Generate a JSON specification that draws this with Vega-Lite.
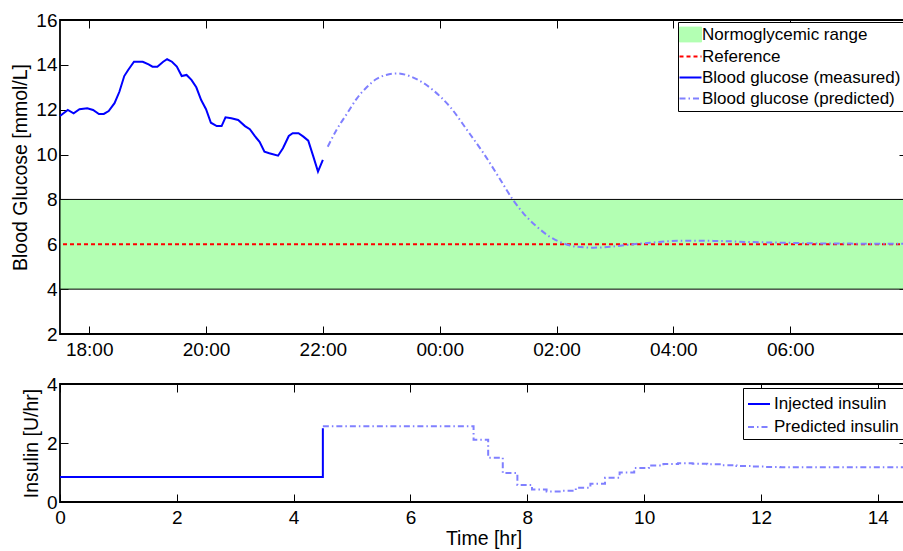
{
  "$schema": "https://vega.github.io/schema/vega-lite/v6.json",
  "background": "white",
  "padding": {"left": 9, "top": 10, "right": 0, "bottom": 0},
  "spacing": 14,
  "config": {
    "font": "Liberation Sans",
    "view": {"stroke": "black", "strokeWidth": 1.8},
    "axis": {
      "grid": false,
      "zindex": 1,
      "domain": false,
      "offset": -8,
      "tickColor": "black",
      "tickWidth": 1,
      "tickSize": 8,
      "labelFont": "Liberation Sans",
      "labelFontSize": 19,
      "labelColor": "black",
      "labelPadding": 3,
      "labelFlush": false,
      "titleFont": "Liberation Sans",
      "titleFontSize": 19.5,
      "titleFontWeight": "normal",
      "titleColor": "black",
      "titlePadding": 5
    },
    "axisX": {"labelPadding": 6, "titlePadding": 2},
    "legend": {
      "orient": "top-right",
      "title": null,
      "fillColor": "white",
      "strokeColor": "black",
      "padding": 4,
      "rowPadding": 3,
      "labelFont": "Liberation Sans",
      "labelFontSize": 17,
      "labelColor": "black",
      "labelOffset": 3,
      "labelLimit": 400,
      "symbolSize": 484,
      "symbolType": "stroke",
      "symbolStrokeWidth": 2
    }
  },
  "datasets": {
    "band": [{"series": "Normoglycemic range", "lo": 4, "hi": 8, "start": "2020-01-01T17:30:00", "end": "2020-01-02T08:00:00"}],
    "measured": [
      {"time": "2020-01-01T17:30:00", "bg": 11.72}, {"time": "2020-01-01T17:38:00", "bg": 11.99},
      {"time": "2020-01-01T17:44:00", "bg": 11.84}, {"time": "2020-01-01T17:50:00", "bg": 12.02},
      {"time": "2020-01-01T17:58:00", "bg": 12.06}, {"time": "2020-01-01T18:04:00", "bg": 11.99},
      {"time": "2020-01-01T18:10:00", "bg": 11.81}, {"time": "2020-01-01T18:15:00", "bg": 11.81},
      {"time": "2020-01-01T18:20:00", "bg": 11.94}, {"time": "2020-01-01T18:26:00", "bg": 12.29},
      {"time": "2020-01-01T18:31:00", "bg": 12.8}, {"time": "2020-01-01T18:36:00", "bg": 13.5},
      {"time": "2020-01-01T18:40:00", "bg": 13.77}, {"time": "2020-01-01T18:46:00", "bg": 14.14},
      {"time": "2020-01-01T18:55:00", "bg": 14.14}, {"time": "2020-01-01T19:01:00", "bg": 14.02},
      {"time": "2020-01-01T19:05:00", "bg": 13.92}, {"time": "2020-01-01T19:10:00", "bg": 13.92},
      {"time": "2020-01-01T19:16:00", "bg": 14.14}, {"time": "2020-01-01T19:20:00", "bg": 14.25},
      {"time": "2020-01-01T19:25:00", "bg": 14.14}, {"time": "2020-01-01T19:30:00", "bg": 13.92},
      {"time": "2020-01-01T19:35:00", "bg": 13.5}, {"time": "2020-01-01T19:40:00", "bg": 13.55},
      {"time": "2020-01-01T19:45:00", "bg": 13.33}, {"time": "2020-01-01T19:50:00", "bg": 13.0},
      {"time": "2020-01-01T19:55:00", "bg": 12.43}, {"time": "2020-01-01T20:00:00", "bg": 12.02},
      {"time": "2020-01-01T20:05:00", "bg": 11.42}, {"time": "2020-01-01T20:11:00", "bg": 11.27},
      {"time": "2020-01-01T20:16:00", "bg": 11.27}, {"time": "2020-01-01T20:20:00", "bg": 11.66},
      {"time": "2020-01-01T20:26:00", "bg": 11.62}, {"time": "2020-01-01T20:33:00", "bg": 11.54},
      {"time": "2020-01-01T20:40:00", "bg": 11.27}, {"time": "2020-01-01T20:45:00", "bg": 11.13},
      {"time": "2020-01-01T20:50:00", "bg": 10.83}, {"time": "2020-01-01T20:55:00", "bg": 10.57},
      {"time": "2020-01-01T21:00:00", "bg": 10.13}, {"time": "2020-01-01T21:05:00", "bg": 10.06},
      {"time": "2020-01-01T21:14:00", "bg": 9.95}, {"time": "2020-01-01T21:19:00", "bg": 10.28},
      {"time": "2020-01-01T21:25:00", "bg": 10.83}, {"time": "2020-01-01T21:29:00", "bg": 10.95},
      {"time": "2020-01-01T21:35:00", "bg": 10.95}, {"time": "2020-01-01T21:40:00", "bg": 10.8},
      {"time": "2020-01-01T21:45:00", "bg": 10.62}, {"time": "2020-01-01T21:50:00", "bg": 9.94},
      {"time": "2020-01-01T21:55:00", "bg": 9.24}, {"time": "2020-01-01T22:00:00", "bg": 9.76}
    ],
    "predicted": [
      {"time": "2020-01-01T22:05:00", "bg": 10.35}, {"time": "2020-01-01T22:14:00", "bg": 11.1},
      {"time": "2020-01-01T22:25:00", "bg": 11.84}, {"time": "2020-01-01T22:35:00", "bg": 12.51},
      {"time": "2020-01-01T22:45:00", "bg": 13.0}, {"time": "2020-01-01T22:55:00", "bg": 13.37},
      {"time": "2020-01-01T23:05:00", "bg": 13.55}, {"time": "2020-01-01T23:17:00", "bg": 13.62},
      {"time": "2020-01-01T23:29:00", "bg": 13.5}, {"time": "2020-01-01T23:43:00", "bg": 13.2},
      {"time": "2020-01-01T23:53:00", "bg": 12.88}, {"time": "2020-01-02T00:11:00", "bg": 12.11},
      {"time": "2020-01-02T00:28:00", "bg": 11.1}, {"time": "2020-01-02T00:45:00", "bg": 10.06},
      {"time": "2020-01-02T01:02:00", "bg": 8.9}, {"time": "2020-01-02T01:15:00", "bg": 8.0},
      {"time": "2020-01-02T01:26:00", "bg": 7.38}, {"time": "2020-01-02T01:40:00", "bg": 6.78},
      {"time": "2020-01-02T01:53:00", "bg": 6.34}, {"time": "2020-01-02T02:07:00", "bg": 6.04},
      {"time": "2020-01-02T02:21:00", "bg": 5.89}, {"time": "2020-01-02T02:38:00", "bg": 5.85},
      {"time": "2020-01-02T02:55:00", "bg": 5.89}, {"time": "2020-01-02T03:12:00", "bg": 5.97},
      {"time": "2020-01-02T03:36:00", "bg": 6.07}, {"time": "2020-01-02T04:10:00", "bg": 6.16},
      {"time": "2020-01-02T04:44:00", "bg": 6.15}, {"time": "2020-01-02T05:19:00", "bg": 6.1},
      {"time": "2020-01-02T05:53:00", "bg": 6.07}, {"time": "2020-01-02T06:27:00", "bg": 6.04},
      {"time": "2020-01-02T07:02:00", "bg": 6.03}, {"time": "2020-01-02T08:00:00", "bg": 6.02}
    ]
  },
  "resolve": {"scale": {"color": "independent"}, "legend": {"color": "independent"}},
  "vconcat": [
    {
      "width": 847,
      "height": 314,
      "layer": [
        {
          "data": {"name": "band"},
          "mark": {"type": "rect", "stroke": "black", "strokeWidth": 1},
          "encoding": {
            "x": {
              "field": "start", "type": "temporal",
              "scale": {"domain": [{"year": 2020, "month": 1, "date": 1, "hours": 17, "minutes": 30}, {"year": 2020, "month": 1, "date": 2, "hours": 8, "minutes": 0}]},
              "axis": {
                "title": null, "format": "%H:%M",
                "values": [
                  {"year": 2020, "month": 1, "date": 1, "hours": 18}, {"year": 2020, "month": 1, "date": 1, "hours": 20},
                  {"year": 2020, "month": 1, "date": 1, "hours": 22}, {"year": 2020, "month": 1, "date": 2, "hours": 0},
                  {"year": 2020, "month": 1, "date": 2, "hours": 2}, {"year": 2020, "month": 1, "date": 2, "hours": 4},
                  {"year": 2020, "month": 1, "date": 2, "hours": 6}
                ]
              }
            },
            "x2": {"field": "end"},
            "y": {
              "field": "lo", "type": "quantitative",
              "scale": {"domain": [2, 16], "nice": false, "zero": false},
              "axis": {"title": "Blood Glucose [mmol/L]", "values": [2, 4, 6, 8, 10, 12, 14, 16], "titleY": 147}
            },
            "y2": {"field": "hi"},
            "color": {
              "field": "series", "type": "nominal",
              "scale": {
                "domain": ["Normoglycemic range", "Reference", "Blood glucose (measured)", "Blood glucose (predicted)"],
                "range": ["#b3ffb3", "#ff0000", "#0000ff", "#8080ff"]
              },
              "legend": {
                "offset": 2,
                "encode": {
                  "symbols": {
                    "update": {
                      "shape": {"signal": "datum.value === 'Normoglycemic range' ? 'M-1,-0.68H1V0.68H-1Z' : 'stroke'"},
                      "fill": {"signal": "datum.value === 'Normoglycemic range' ? '#b3ffb3' : 'transparent'"},
                      "stroke": {"signal": "datum.value === 'Normoglycemic range' ? 'black' : datum.value === 'Reference' ? '#ff0000' : datum.value === 'Blood glucose (measured)' ? '#0000ff' : '#8080ff'"},
                      "strokeDash": {"signal": "datum.value === 'Reference' ? [4, 3] : datum.value === 'Blood glucose (predicted)' ? [6, 3, 1.5, 3] : [1, 0]"},
                      "strokeWidth": {"signal": "datum.value === 'Normoglycemic range' ? 1 : 2"},
                      "opacity": {"value": 1}
                    }
                  }
                }
              }
            }
          }
        },
        {
          "data": {"values": [{"series": "Reference", "bg": 6}]},
          "mark": {"type": "rule", "strokeWidth": 2, "strokeDash": [4, 3]},
          "encoding": {
            "y": {"field": "bg", "type": "quantitative", "axis": null},
            "color": {"field": "series", "type": "nominal", "legend": {
                "offset": 2,
                "encode": {
                  "symbols": {
                    "update": {
                      "shape": {"signal": "datum.value === 'Normoglycemic range' ? 'M-1,-0.68H1V0.68H-1Z' : 'stroke'"},
                      "fill": {"signal": "datum.value === 'Normoglycemic range' ? '#b3ffb3' : 'transparent'"},
                      "stroke": {"signal": "datum.value === 'Normoglycemic range' ? 'black' : datum.value === 'Reference' ? '#ff0000' : datum.value === 'Blood glucose (measured)' ? '#0000ff' : '#8080ff'"},
                      "strokeDash": {"signal": "datum.value === 'Reference' ? [4, 3] : datum.value === 'Blood glucose (predicted)' ? [6, 3, 1.5, 3] : [1, 0]"},
                      "strokeWidth": {"signal": "datum.value === 'Normoglycemic range' ? 1 : 2"},
                      "opacity": {"value": 1}
                    }
                  }
                }
              }}
          }
        },
        {
          "data": {"name": "measured"},
          "transform": [{"calculate": "'Blood glucose (measured)'", "as": "series"}],
          "mark": {"type": "line", "strokeWidth": 2},
          "encoding": {
            "x": {"field": "time", "type": "temporal", "axis": null},
            "y": {"field": "bg", "type": "quantitative", "axis": null},
            "color": {"field": "series", "type": "nominal", "legend": {
                "offset": 2,
                "encode": {
                  "symbols": {
                    "update": {
                      "shape": {"signal": "datum.value === 'Normoglycemic range' ? 'M-1,-0.68H1V0.68H-1Z' : 'stroke'"},
                      "fill": {"signal": "datum.value === 'Normoglycemic range' ? '#b3ffb3' : 'transparent'"},
                      "stroke": {"signal": "datum.value === 'Normoglycemic range' ? 'black' : datum.value === 'Reference' ? '#ff0000' : datum.value === 'Blood glucose (measured)' ? '#0000ff' : '#8080ff'"},
                      "strokeDash": {"signal": "datum.value === 'Reference' ? [4, 3] : datum.value === 'Blood glucose (predicted)' ? [6, 3, 1.5, 3] : [1, 0]"},
                      "strokeWidth": {"signal": "datum.value === 'Normoglycemic range' ? 1 : 2"},
                      "opacity": {"value": 1}
                    }
                  }
                }
              }}
          }
        },
        {
          "data": {"name": "predicted"},
          "transform": [{"calculate": "'Blood glucose (predicted)'", "as": "series"}],
          "mark": {"type": "line", "strokeWidth": 2, "strokeDash": [6, 3, 1.5, 3], "interpolate": "monotone"},
          "encoding": {
            "x": {"field": "time", "type": "temporal", "axis": {"orient": "top", "labels": false, "title": null,
              "values": [
                {"year": 2020, "month": 1, "date": 1, "hours": 18}, {"year": 2020, "month": 1, "date": 1, "hours": 20},
                {"year": 2020, "month": 1, "date": 1, "hours": 22}, {"year": 2020, "month": 1, "date": 2, "hours": 0},
                {"year": 2020, "month": 1, "date": 2, "hours": 2}, {"year": 2020, "month": 1, "date": 2, "hours": 4},
                {"year": 2020, "month": 1, "date": 2, "hours": 6}
              ]}},
            "y": {"field": "bg", "type": "quantitative", "axis": {"orient": "right", "labels": false, "title": null, "values": [2, 4, 6, 8, 10, 12, 14, 16]}},
            "color": {"field": "series", "type": "nominal", "legend": {
                "offset": 2,
                "encode": {
                  "symbols": {
                    "update": {
                      "shape": {"signal": "datum.value === 'Normoglycemic range' ? 'M-1,-0.68H1V0.68H-1Z' : 'stroke'"},
                      "fill": {"signal": "datum.value === 'Normoglycemic range' ? '#b3ffb3' : 'transparent'"},
                      "stroke": {"signal": "datum.value === 'Normoglycemic range' ? 'black' : datum.value === 'Reference' ? '#ff0000' : datum.value === 'Blood glucose (measured)' ? '#0000ff' : '#8080ff'"},
                      "strokeDash": {"signal": "datum.value === 'Reference' ? [4, 3] : datum.value === 'Blood glucose (predicted)' ? [6, 3, 1.5, 3] : [1, 0]"},
                      "strokeWidth": {"signal": "datum.value === 'Normoglycemic range' ? 1 : 2"},
                      "opacity": {"value": 1}
                    }
                  }
                }
              }}
          }
        }
      ],
      "resolve": {"axis": {"x": "independent", "y": "independent"}}
    },
    {
      "width": 847,
      "height": 118,
      "layer": [
        {
          "data": {"values": [
            {"series": "Injected insulin", "hr": 0, "rate": 0.85},
            {"series": "Injected insulin", "hr": 4.5, "rate": 2.5}
          ]},
          "mark": {"type": "line", "strokeWidth": 2, "interpolate": "step-after"},
          "encoding": {
            "x": {"field": "hr", "type": "quantitative", "scale": {"domain": [0, 14.5], "nice": false, "zero": false},
              "axis": {"title": "Time [hr]", "values": [0, 2, 4, 6, 8, 10, 12, 14]}},
            "y": {"field": "rate", "type": "quantitative", "scale": {"domain": [0, 4], "nice": false},
              "axis": {"title": "Insulin [U/hr]", "values": [0, 2, 4]}},
            "color": {
              "field": "series", "type": "nominal",
              "scale": {"domain": ["Injected insulin", "Predicted insulin"], "range": ["#0000ff", "#8080ff"]},
              "legend": {
                "offset": 4,
                "encode": {
                  "symbols": {
                    "update": {
                      "shape": {"value": "stroke"},
                      "stroke": {"signal": "datum.value === 'Injected insulin' ? '#0000ff' : '#8080ff'"},
                      "strokeDash": {"signal": "datum.value === 'Predicted insulin' ? [6, 3, 1.5, 3] : [1, 0]"},
                      "strokeWidth": {"value": 2},
                      "opacity": {"value": 1}
                    }
                  }
                }
              }
            }
          }
        },
        {
          "data": {"values": [
            {"series": "Predicted insulin", "hr": 4.5, "rate": 2.57},
            {"series": "Predicted insulin", "hr": 7.08, "rate": 2.11},
            {"series": "Predicted insulin", "hr": 7.33, "rate": 1.5},
            {"series": "Predicted insulin", "hr": 7.58, "rate": 0.98},
            {"series": "Predicted insulin", "hr": 7.83, "rate": 0.58},
            {"series": "Predicted insulin", "hr": 8.08, "rate": 0.42},
            {"series": "Predicted insulin", "hr": 8.33, "rate": 0.36},
            {"series": "Predicted insulin", "hr": 8.58, "rate": 0.38},
            {"series": "Predicted insulin", "hr": 8.83, "rate": 0.48},
            {"series": "Predicted insulin", "hr": 9.08, "rate": 0.62},
            {"series": "Predicted insulin", "hr": 9.33, "rate": 0.82},
            {"series": "Predicted insulin", "hr": 9.58, "rate": 1.0},
            {"series": "Predicted insulin", "hr": 9.83, "rate": 1.15},
            {"series": "Predicted insulin", "hr": 10.08, "rate": 1.24},
            {"series": "Predicted insulin", "hr": 10.33, "rate": 1.29},
            {"series": "Predicted insulin", "hr": 10.58, "rate": 1.31},
            {"series": "Predicted insulin", "hr": 10.83, "rate": 1.3},
            {"series": "Predicted insulin", "hr": 11.08, "rate": 1.28},
            {"series": "Predicted insulin", "hr": 11.33, "rate": 1.25},
            {"series": "Predicted insulin", "hr": 11.58, "rate": 1.22},
            {"series": "Predicted insulin", "hr": 11.83, "rate": 1.2},
            {"series": "Predicted insulin", "hr": 12.08, "rate": 1.19},
            {"series": "Predicted insulin", "hr": 12.33, "rate": 1.18},
            {"series": "Predicted insulin", "hr": 14.5, "rate": 1.18}
          ]},
          "mark": {"type": "line", "strokeWidth": 2, "strokeDash": [6, 3, 1.5, 3], "interpolate": "step-after"},
          "encoding": {
            "x": {"field": "hr", "type": "quantitative", "axis": {"orient": "top", "labels": false, "title": null, "values": [0, 2, 4, 6, 8, 10, 12, 14]}},
            "y": {"field": "rate", "type": "quantitative", "axis": {"orient": "right", "labels": false, "title": null, "values": [0, 2, 4]}},
            "color": {"field": "series", "type": "nominal"}
          }
        }
      ],
      "resolve": {"axis": {"x": "independent", "y": "independent"}}
    }
  ]
}
